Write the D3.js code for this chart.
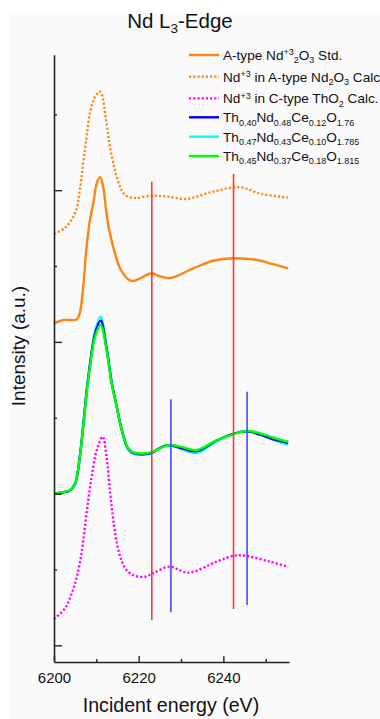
<!DOCTYPE html>
<html>
<head>
<meta charset="utf-8">
<script src="https://cdn.jsdelivr.net/npm/d3@7"></script>
<style>
  html, body { margin: 0; padding: 0; background: #fff; }
  svg { display: block; font-family: "Liberation Sans", Arial, sans-serif; }
</style>
</head>
<body>
<div id="chart"></div>
<script>
// Nd L3-edge spectra, offset vertically
const calcAEnergy = [6200, 6202.6, 6205.0, 6206.1, 6206.9, 6207.7, 6208.5, 6209.7, 6210.9, 6212.4, 6213.2, 6214.4, 6215.6, 6216.8, 6219.1, 6223.1, 6227, 6231.3, 6237.5, 6243.9, 6249, 6255.3];
const calcAIntensity = [2.711, 2.752, 2.851, 3.003, 3.181, 3.353, 3.509, 3.616, 3.649, 3.443, 3.287, 3.133, 3.023, 2.968, 2.949, 2.964, 2.957, 2.942, 2.990, 3.019, 2.975, 2.951];

const stdAEnergy = [6200, 6202.2, 6205.4, 6206.1, 6206.9, 6207.7, 6208.5, 6209.3, 6210.1, 6210.9, 6211.6, 6212.4, 6213.2, 6214.4, 6215.6, 6217.5, 6218.7, 6220.3, 6223.1, 6224.6, 6227.5, 6232.9, 6237.6, 6242.3, 6247.9, 6251.0, 6255.3];
const stdAIntensity = [2.1225, 2.144, 2.149, 2.191, 2.364, 2.628, 2.804, 2.916, 3.046, 3.085, 3.023, 2.848, 2.716, 2.584, 2.485, 2.413, 2.401, 2.419, 2.452, 2.436, 2.421, 2.485, 2.535, 2.551, 2.540, 2.518, 2.485];

const mixEnergy = [6200, 6203.8, 6205.0, 6206.1, 6206.9, 6207.7, 6208.5, 6209.7, 6211.0, 6212.4, 6213.6, 6214.8, 6216.0, 6217.5, 6218.7, 6221.9, 6223.4, 6225.8, 6227.4, 6230.5, 6233.7, 6238.4, 6242.3, 6245.5, 6248.6, 6251.8, 6255.3];
const th40Intensity = [1.000, 1.022, 1.066, 1.245, 1.446, 1.670, 1.850, 2.055, 2.140, 1.960, 1.735, 1.575, 1.420, 1.297, 1.268, 1.262, 1.274, 1.312, 1.318, 1.296, 1.280, 1.350, 1.394, 1.410, 1.390, 1.357, 1.335];
const th47Intensity = [0.998, 1.020, 1.064, 1.245, 1.450, 1.678, 1.860, 2.070, 2.166, 1.972, 1.740, 1.576, 1.416, 1.290, 1.262, 1.258, 1.270, 1.312, 1.318, 1.290, 1.268, 1.345, 1.392, 1.412, 1.392, 1.355, 1.322];
const th45Intensity = [1.002, 1.024, 1.068, 1.243, 1.441, 1.661, 1.837, 2.034, 2.111, 1.947, 1.727, 1.573, 1.419, 1.299, 1.272, 1.266, 1.276, 1.309, 1.320, 1.305, 1.287, 1.353, 1.391, 1.413, 1.398, 1.368, 1.342];

const calcCEnergy = [6200, 6202.6, 6204.2, 6205.4, 6206.5, 6207.3, 6208.1, 6208.9, 6210.1, 6211.5, 6212.4, 6213.2, 6214.0, 6215.2, 6216.8, 6218.7, 6221.5, 6223.4, 6227.3, 6231.7, 6238.4, 6242.5, 6245.1, 6251.0, 6255.3];
const calcCIntensity = [0.173, 0.244, 0.343, 0.452, 0.606, 0.782, 0.958, 1.111, 1.287, 1.375, 1.243, 1.024, 0.826, 0.628, 0.508, 0.463, 0.452, 0.475, 0.518, 0.479, 0.551, 0.591, 0.591, 0.551, 0.518];

// vertical marker lines
const redEnergy = [6223.1, 6242.4];
const redTop = [3.056, 3.107];
const redBottom = [0.167, 0.239];
const blueEnergy = [6227.6, 6245.6];
const blueTop = [1.622, 1.672];
const blueBottom = [0.218, 0.266];

const xMajorTicks = [6200, 6220, 6240];
const xMinorTicks = [6210, 6230, 6250];
const yMajorTicks = [0, 1, 2, 3];
const yMinorTicks = [0.5, 1.5, 2.5, 3.5];

// legend labels: [text, "n" | "sup" | "sub"]
const legendLabels = [
  [["A-type Nd", "n"], ["+3", "sup"], ["2", "sub"], ["O", "n"], ["3", "sub"], [" Std.", "n"]],
  [["Nd", "n"], ["+3", "sup"], [" in A-type Nd", "n"], ["2", "sub"], ["O", "n"], ["3", "sub"], [" Calc.", "n"]],
  [["Nd", "n"], ["+3", "sup"], [" in C-type ThO", "n"], ["2", "sub"], [" Calc.", "n"]],
  [["Th", "n"], ["0.40", "sub"], ["Nd", "n"], ["0.48", "sub"], ["Ce", "n"], ["0.12", "sub"], ["O", "n"], ["1.76", "sub"]],
  [["Th", "n"], ["0.47", "sub"], ["Nd", "n"], ["0.43", "sub"], ["Ce", "n"], ["0.10", "sub"], ["O", "n"], ["1.785", "sub"]],
  [["Th", "n"], ["0.45", "sub"], ["Nd", "n"], ["0.37", "sub"], ["Ce", "n"], ["0.18", "sub"], ["O", "n"], ["1.815", "sub"]]
];

const orange = "#ff8412";
const series = [
  { energy: calcAEnergy, values: calcAIntensity, color: orange, dotted: true },
  { energy: stdAEnergy, values: stdAIntensity, color: orange, dotted: false },
  { energy: mixEnergy, values: th47Intensity, color: "#00ffff", dotted: false },
  { energy: mixEnergy, values: th40Intensity, color: "#0000ff", dotted: false },
  { energy: mixEnergy, values: th45Intensity, color: "#00ff00", dotted: false },
  { energy: calcCEnergy, values: calcCIntensity, color: "#ff00ff", dotted: true }
];
const legendStyles = [
  { color: orange, dotted: false },
  { color: orange, dotted: true },
  { color: "#ff00ff", dotted: true },
  { color: "#0000ff", dotted: false },
  { color: "#00ffff", dotted: false },
  { color: "#00ff00", dotted: false }
];

const width = 380;
const height = 719;

const svg = d3.select("#chart")
  .append("svg")
  .attr("width", width)
  .attr("height", height);

// faint grey panel like the source screenshot
svg.append("rect")
  .attr("x", 10).attr("y", 13)
  .attr("width", width - 10).attr("height", height - 13)
  .attr("fill", "#fafafa");

const x = d3.scaleLinear().domain([6200, 6255.5]).range([54, 289]);
const y = d3.scaleLinear().domain([-0.11, 3.893]).range([662, 54.7]);

const line = d3.line()
  .x((d) => x(d[0]))
  .y((d) => y(d[1]))
  .curve(d3.curveCatmullRom.alpha(0.5));

// spectra
svg.append("g")
  .selectAll("path")
  .data(series)
  .join("path")
  .attr("fill", "none")
  .attr("stroke", (d) => d.color)
  .attr("stroke-width", (d) => (d.dotted ? 2.3 : 2.4))
  .attr("stroke-dasharray", (d) => (d.dotted ? "2.2,2" : null))
  .attr("stroke-linejoin", "round")
  .attr("d", (d) => line(d.energy.map((e, i) => [e, d.values[i]])));

// marker lines
const markers = redEnergy.map((e, i) => ({ e, top: redTop[i], bottom: redBottom[i], color: "#ff3535" }))
  .concat(blueEnergy.map((e, i) => ({ e, top: blueTop[i], bottom: blueBottom[i], color: "#4a4aff" })));

svg.append("g")
  .selectAll("line")
  .data(markers)
  .join("line")
  .attr("x1", (d) => x(d.e))
  .attr("x2", (d) => x(d.e))
  .attr("y1", (d) => y(d.top))
  .attr("y2", (d) => y(d.bottom))
  .attr("stroke", (d) => d.color)
  .attr("stroke-width", 1.6);

// axes, ticks pointing inward
const axisColor = "#222";

const xAxis = svg.append("g")
  .attr("transform", `translate(0, ${y.range()[0]})`)
  .call(d3.axisBottom(x).tickValues(xMajorTicks).tickSize(-6).tickSizeOuter(0).tickPadding(10).tickFormat(d3.format("d")));
svg.append("g")
  .attr("transform", `translate(0, ${y.range()[0]})`)
  .call(d3.axisBottom(x).tickValues(xMinorTicks).tickSize(-3).tickSizeOuter(0).tickFormat(""))
  .call((g) => g.select(".domain").remove());

svg.append("g")
  .attr("transform", `translate(${x.range()[0]}, 0)`)
  .call(d3.axisLeft(y).tickValues(yMajorTicks).tickSize(-8).tickSizeOuter(0).tickFormat(""));
svg.append("g")
  .attr("transform", `translate(${x.range()[0]}, 0)`)
  .call(d3.axisLeft(y).tickValues(yMinorTicks).tickSize(-3).tickSizeOuter(0).tickFormat(""))
  .call((g) => g.select(".domain").remove());

svg.selectAll(".domain").attr("stroke", axisColor).attr("stroke-width", 1.6);
svg.selectAll(".tick line").attr("stroke", axisColor).attr("stroke-width", 1.4);
xAxis.selectAll(".tick text")
  .attr("fill", "#111")
  .attr("font-size", 15)
  .attr("font-family", "Liberation Sans, Arial, sans-serif");

// axis titles
svg.append("text")
  .attr("x", 171)
  .attr("y", 712)
  .attr("text-anchor", "middle")
  .attr("font-size", 19.6)
  .attr("fill", "#111")
  .text("Incident energy (eV)");

svg.append("text")
  .attr("transform", "translate(25, 346) rotate(-90)")
  .attr("text-anchor", "middle")
  .attr("font-size", 19)
  .attr("fill", "#111")
  .text("Intensity (a.u.)");

// title
const title = svg.append("text")
  .attr("x", 180)
  .attr("y", 28)
  .attr("text-anchor", "middle")
  .attr("font-size", 20.5)
  .attr("fill", "#111");
title.append("tspan").text("Nd L");
title.append("tspan").attr("font-size", 13.5).attr("dy", 4.5).text("3");
title.append("tspan").attr("dy", -4.5).text("-Edge");

// legend
const legendY = [55, 76.7, 98.3, 117.3, 136.7, 156];
const legend = svg.append("g");

legendLabels.forEach((parts, i) => {
  const ly = legendY[i];
  const st = legendStyles[i];
  legend.append("line")
    .attr("x1", 189).attr("x2", 219)
    .attr("y1", ly).attr("y2", ly)
    .attr("stroke", st.color)
    .attr("stroke-width", st.dotted ? 2.3 : 2.4)
    .attr("stroke-dasharray", st.dotted ? "2.2,2" : null);

  const t = legend.append("text")
    .attr("x", 223)
    .attr("y", ly + 4.8)
    .attr("font-size", 13.6)
    .attr("fill", "#111");
  let offset = 0;
  parts.forEach(([txt, kind]) => {
    const target = kind === "sup" ? -4.5 : kind === "sub" ? 3.5 : 0;
    t.append("tspan")
      .attr("dy", target - offset)
      .attr("font-size", kind === "n" ? 13.6 : 9)
      .text(txt);
    offset = target;
  });
});
</script>
</body>
</html>
